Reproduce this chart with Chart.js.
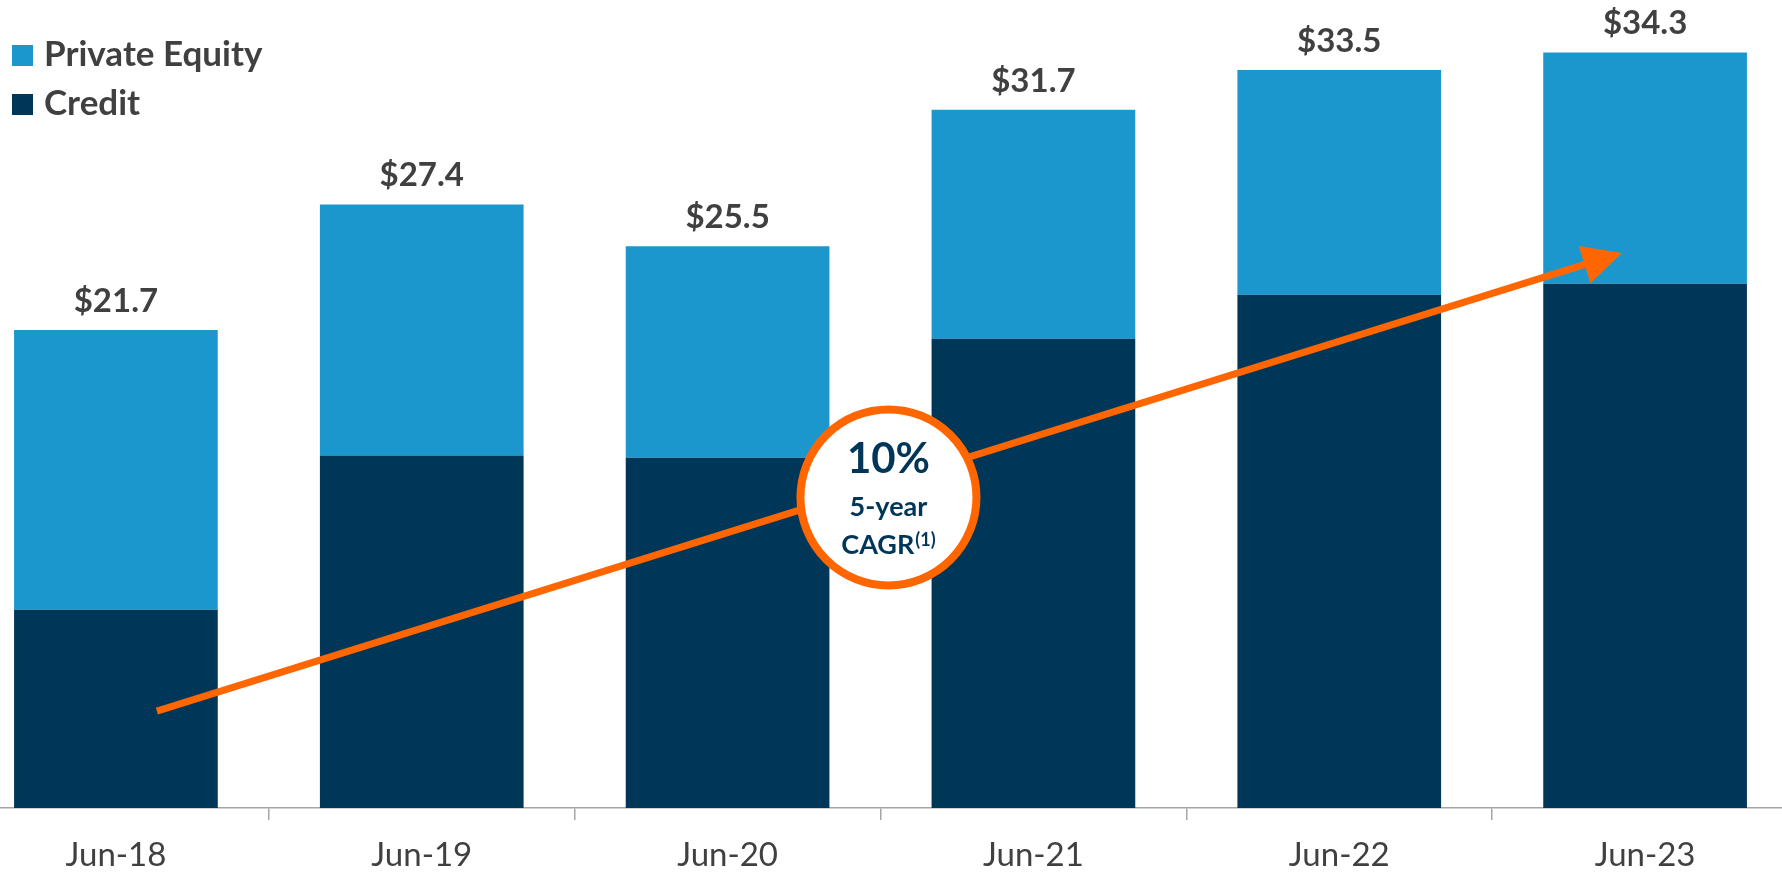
<!DOCTYPE html>
<html><head><meta charset="utf-8">
<script src="https://cdn.jsdelivr.net/npm/chart.js@4"></script>
<style>
html,body{margin:0;padding:0;background:#fff;overflow:hidden;width:1782px;height:873px;}
#wrap{position:absolute;left:-37px;top:0;width:1835px;height:873px;}
canvas{display:block;}
</style></head><body>
<div id="wrap"><canvas id="c" width="1835" height="873"></canvas></div>
<script>
const categories = ['Jun-18', 'Jun-19', 'Jun-20', 'Jun-21', 'Jun-22', 'Jun-23'];
const credit = [9.0, 16.0, 15.9, 21.3, 23.3, 23.8];
const privateEquity = [12.7, 11.4, 9.6, 10.4, 10.2, 10.5];
const totalLabels = ['$21.7', '$27.4', '$25.5', '$31.7', '$33.5', '$34.3'];
const seriesNames = ['Credit', 'Private Equity'];
const cagrValue = '10%';
const cagrLine2 = '5-year';
const cagrLine3 = 'CAGR';
const cagrNote = '(1)';

// annotation anchors in data units (category index, value)
const arrowTail = { x: 0.134, y: 4.4 };
const arrowTip = { x: 4.924, y: 25.2 };
const badgeCenter = { x: 2.526, y: 14.1 };

const OFF = 37;
const C_PE = '#1c97cd';
const C_CR = '#003658';
const C_TXT = '#404040';
const C_ORANGE = '#ff6600';
const FONT = 'Lato, "Open Sans", sans-serif';

const overlay = {
  id: 'overlay',
  afterDatasetsDraw(chart) {
    const ctx = chart.ctx, xs = chart.scales.x, ys = chart.scales.y;
    const pitch = xs.getPixelForValue(1) - xs.getPixelForValue(0);
    const px = v => xs.getPixelForValue(0) + v * pitch;
    const py = v => ys.getPixelForValue(v);
    ctx.save();
    // total labels
    const topMeta = chart.getDatasetMeta(1);
    ctx.font = 'bold 33px ' + FONT;
    ctx.fillStyle = C_TXT;
    ctx.textAlign = 'center';
    ctx.textBaseline = 'alphabetic';
    topMeta.data.forEach((bar, i) => { ctx.fillText(totalLabels[i], bar.x, bar.y - 18); });

    // arrow
    const x0 = px(arrowTail.x), y0 = py(arrowTail.y);
    const x1 = px(arrowTip.x), y1 = py(arrowTip.y);
    const len = Math.hypot(x1 - x0, y1 - y0);
    const ux = (x1 - x0) / len, uy = (y1 - y0) / len;
    const headL = 39, headW = 19.5;
    const bx = x1 - ux * headL, by = y1 - uy * headL;
    ctx.strokeStyle = C_ORANGE;
    ctx.lineWidth = 7;
    ctx.lineCap = 'butt';
    ctx.beginPath(); ctx.moveTo(x0, y0); ctx.lineTo(bx + ux * 2, by + uy * 2); ctx.stroke();
    ctx.fillStyle = C_ORANGE;
    ctx.beginPath();
    ctx.moveTo(x1, y1);
    ctx.lineTo(bx - uy * headW, by + ux * headW);
    ctx.lineTo(bx + uy * headW, by - ux * headW);
    ctx.closePath(); ctx.fill();

    // badge
    const cx = px(badgeCenter.x), cy = py(badgeCenter.y);
    ctx.beginPath(); ctx.arc(cx, cy, 88, 0, Math.PI * 2);
    ctx.fillStyle = '#ffffff'; ctx.fill();
    ctx.lineWidth = 8; ctx.strokeStyle = C_ORANGE; ctx.stroke();
    ctx.fillStyle = C_CR;
    ctx.textAlign = 'center';
    ctx.font = 'bold 42px ' + FONT;
    ctx.fillText(cagrValue, cx, cy - 24);
    ctx.font = 'bold 27px ' + FONT;
    ctx.fillText(cagrLine2, cx, cy + 19);
    const w1 = ctx.measureText(cagrLine3).width;
    ctx.font = 'bold 18px ' + FONT;
    const w2 = ctx.measureText(cagrNote).width;
    const sx = cx - (w1 + w2 + 1) / 2;
    ctx.textAlign = 'left';
    ctx.font = 'bold 27px ' + FONT;
    ctx.fillText(cagrLine3, sx, cy + 57);
    ctx.font = 'bold 18px ' + FONT;
    ctx.fillText(cagrNote, sx + w1 + 1, cy + 49);

    // legend
    const items = [[seriesNames[1], C_PE, 45], [seriesNames[0], C_CR, 94]];
    ctx.font = 'bold 35px ' + FONT;
    items.forEach(([name, col, yy]) => {
      ctx.fillStyle = col;
      ctx.fillRect(OFF + 12, yy, 21, 21);
      ctx.fillStyle = C_TXT;
      ctx.textAlign = 'left';
      ctx.fillText(name, OFF + 44, yy + 21);
    });
    ctx.restore();
  }
};

new Chart(document.getElementById('c'), {
  type: 'bar',
  data: {
    labels: categories,
    datasets: [
      { label: seriesNames[0], data: credit, backgroundColor: C_CR, borderWidth: 0 },
      { label: seriesNames[1], data: privateEquity, backgroundColor: C_PE, borderWidth: 0 }
    ]
  },
  options: {
    responsive: false,
    animation: false,
    devicePixelRatio: 1,
    layout: { padding: { top: 15, left: 0, right: 0, bottom: 0 } },
    datasets: { bar: { categoryPercentage: 1, barPercentage: 0.666 } },
    plugins: { legend: { display: false }, tooltip: { enabled: false } },
    scales: {
      x: {
        stacked: true,
        offset: true,
        grid: { offset: true, drawOnChartArea: false, drawTicks: true, tickLength: 12, color: '#a6a6a6', lineWidth: 1.5 },
        border: { display: true, color: '#a6a6a6', width: 1.5 },
        ticks: { font: { family: FONT, size: 33 }, color: C_TXT, padding: 16 },
        afterFit(s) { s.height = 65; }
      },
      y: { stacked: true, display: false, min: 0, max: 36 }
    }
  },
  plugins: [overlay]
});
</script>
</body></html>
